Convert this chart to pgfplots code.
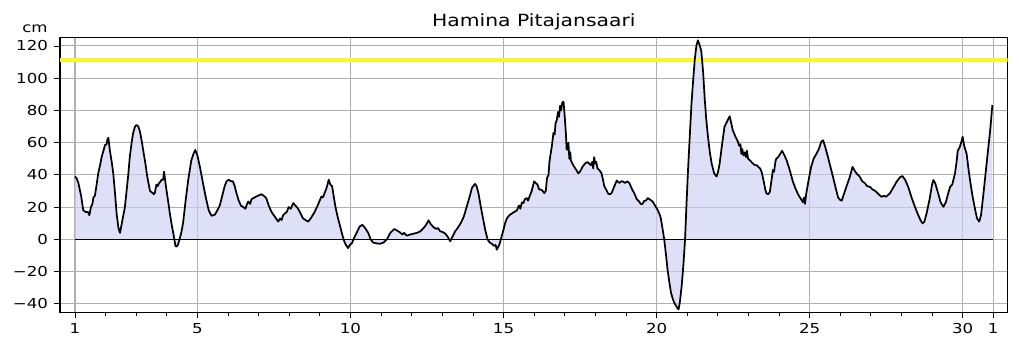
\documentclass[border=0pt]{standalone}
\usepackage{fontspec}
\setmainfont{DejaVu Sans}[FakeStretch=1.21]
\usepackage{pgfplots}
\pgfplotsset{compat=1.18}
\usepackage{pgfplotstable}
\definecolor{fillc}{RGB}{205,207,245}
\definecolor{gridc}{RGB}{176,176,176}
\definecolor{yel}{RGB}{248,248,40}

\pgfplotstableread{
x y
1.00 39
1.05 38
1.11 35
1.20 27
1.27 18
1.35 17
1.42 17
1.47 15
1.52 20
1.57 22
1.60 26
1.65 27
1.70 33
1.76 41
1.82 46
1.87 51
1.93 55
1.98 58.5
2.03 59
2.06 62
2.09 63
2.14 55
2.20 48
2.25 41
2.31 28
2.36 16
2.42 7
2.47 4
2.53 10
2.58 15
2.63 20
2.68 29
2.74 40
2.79 51
2.85 60
2.90 66
2.96 70
3.01 71
3.07 70
3.12 67
3.18 61
3.23 55
3.30 47
3.36 39
3.45 30
3.52 29
3.58 28
3.61 29
3.66 34
3.70 33
3.75 35
3.80 36
3.83 37
3.88 37
3.91 42
3.97 33
4.04 24
4.10 16
4.16 9
4.21 4
4.28 -4
4.32 -4.5
4.36 -3.5
4.40 -1
4.47 4
4.53 10
4.62 25
4.70 37
4.80 49
4.87 53
4.93 55.5
5.00 52
5.08 45
5.20 33
5.29 24.5
5.37 18
5.46 14.6
5.57 15.3
5.65 18
5.73 21
5.81 27
5.89 33
5.95 36
6.02 37
6.10 36
6.16 36
6.22 33
6.27 29
6.35 24
6.42 21
6.50 20
6.57 19
6.62 22
6.66 23.5
6.72 22
6.77 25
6.87 26
6.97 27
7.09 28
7.17 27
7.25 25.5
7.33 21
7.42 17
7.53 14
7.64 11
7.70 13
7.75 12
7.80 15
7.85 16
7.92 17
7.98 20
8.05 19
8.13 22.5
8.20 21
8.29 19
8.37 16
8.45 13
8.53 12
8.62 11
8.70 13
8.83 17
8.95 22
9.05 26.6
9.10 26
9.16 29
9.22 32
9.29 37
9.34 34
9.40 33
9.45 27
9.51 20
9.58 14
9.65 9
9.73 3
9.81 -2
9.87 -4
9.92 -5.4
9.98 -3.5
10.05 -2.3
10.12 1
10.20 4
10.30 8
10.39 9
10.48 7
10.58 4
10.66 0
10.74 -2
10.85 -2.5
10.97 -2.7
11.08 -2
11.19 0
11.30 4
11.43 6.4
11.52 5.5
11.62 4.3
11.70 3
11.75 4
11.84 2.3
11.95 3
12.05 3.5
12.17 4
12.28 5
12.39 7
12.47 9
12.55 11.8
12.62 9.5
12.71 7.6
12.80 6.5
12.86 7
12.93 5
13.02 4.5
13.10 3.5
13.18 1.5
13.26 -1.2
13.34 2
13.42 5
13.50 7
13.60 10
13.70 14
13.80 20.4
13.90 27
13.97 32
14.07 34.4
14.12 33
14.18 28.7
14.25 21
14.32 14
14.40 6
14.48 0
14.55 -2
14.62 -2.7
14.68 -4
14.74 -3.5
14.78 -6.4
14.82 -5
14.87 -3
14.94 2
15.00 6
15.05 10
15.11 13
15.19 15
15.27 16
15.35 17
15.44 18
15.50 21
15.55 19
15.60 23
15.65 22.5
15.70 25
15.76 25.6
15.80 24
15.85 26.6
15.92 30
16.00 36
16.05 35
16.11 34
16.16 31
16.22 31
16.28 30
16.33 28.7
16.38 30
16.42 38
16.47 40
16.50 48
16.53 52
16.58 58
16.63 66
16.67 65
16.70 72
16.74 74
16.78 79
16.81 76
16.85 83
16.88 80
16.92 85
16.96 85.4
17.00 76
17.04 65
17.06 56
17.09 55.5
17.12 60
17.15 50
17.18 54
17.20 49
17.25 47
17.31 45
17.38 43
17.44 41
17.50 42
17.58 45
17.66 47
17.75 48
17.80 47
17.85 46
17.90 48
17.93 44
17.96 51
18.00 47
18.03 48
18.07 44
18.13 43
18.20 41
18.25 37
18.29 33
18.35 31
18.42 28.3
18.48 28
18.53 28.7
18.60 32
18.70 36.5
18.78 35
18.85 36
18.89 36
18.97 35
19.04 36
19.11 35
19.20 31
19.27 28.7
19.35 25
19.43 23.5
19.48 22
19.54 22
19.60 24
19.65 24
19.71 25.6
19.80 24.5
19.87 23.5
19.95 21
20.03 18.4
20.09 16
20.14 13
20.20 6
20.25 0
20.31 -10
20.36 -19
20.42 -27
20.47 -33
20.53 -37
20.58 -39.4
20.63 -41
20.69 -43
20.72 -43.4
20.76 -39
20.82 -29
20.88 -15
20.93 0
20.98 23
21.03 44
21.09 66
21.14 84
21.20 100
21.25 112
21.30 120
21.35 123.5
21.40 121
21.46 117
21.52 104
21.57 88
21.62 75
21.68 63.6
21.74 54
21.80 47
21.88 41
21.96 39
22.01 42
22.06 47
22.14 59
22.22 70
22.30 73
22.39 76.4
22.44 72
22.49 67.7
22.57 64
22.66 60.5
22.70 58
22.74 59
22.77 53
22.80 56
22.84 52
22.88 54
22.92 51
22.95 55
22.99 50
23.05 49
23.10 48
23.15 47
23.22 46
23.28 46
23.32 45
23.38 44
23.43 42
23.50 36
23.55 31
23.59 28.5
23.65 28
23.70 29.5
23.75 36
23.80 43
23.84 42
23.88 48
23.91 50
23.97 51
24.04 53
24.10 55
24.18 52
24.25 49
24.35 43
24.45 36
24.56 30.5
24.65 27
24.72 25
24.78 23
24.82 26
24.85 22
24.89 28.5
24.97 37
25.05 45
25.13 50
25.22 53
25.30 56
25.38 60.5
25.44 61.5
25.50 58
25.60 51
25.68 45
25.76 39
25.85 32
25.93 26
26.00 24.4
26.05 24
26.10 27
26.20 32.6
26.30 38
26.36 42
26.40 45
26.46 43
26.53 41
26.64 38.8
26.72 36
26.80 35
26.88 33
26.97 32.6
27.05 31
27.15 30
27.25 28
27.35 26.4
27.42 27
27.50 26.5
27.62 28.5
27.73 32
27.84 35.7
27.95 38.5
28.03 39.3
28.12 37
28.22 32.6
28.33 26
28.44 20.2
28.55 15
28.62 12
28.69 9.9
28.75 11
28.82 16
28.92 25
29.00 34
29.04 36.8
29.10 35
29.20 28.5
29.28 23
29.37 20.2
29.45 23
29.52 28
29.59 32.6
29.66 34
29.75 41
29.80 48
29.84 55
29.90 57
29.95 60
30.00 63.6
30.05 58
30.13 53
30.18 45
30.24 36.8
30.32 27
30.41 18.2
30.47 13
30.54 11
30.60 15
30.68 28.5
30.76 43
30.84 57.4
30.90 68
30.97 83.3
}\level

\begin{document}
\begin{tikzpicture}
\begin{axis}[
  name=ax,
  scale only axis,
  width=710.8pt, height=206pt,
  xmin=0.51, xmax=31.47, ymin=-45.3, ymax=125.1,
  xtick={1,5,10,15,20,25,30,31},
  xticklabels={1,5,10,15,20,25,30,1},
  minor xtick={2,3,4,6,7,8,9,11,12,13,14,16,17,18,19,21,22,23,24,26,27,28,29},
  ytick={-40,-20,0,20,40,60,80,100,120},
  yticklabels={−40,−20,0,20,40,60,80,100,120},
  tick pos=left,
  tick align=outside,
  major tick length=4.5pt, minor tick length=2.5pt,
  tick style={black, line width=0.6pt},
  grid=major,
  major grid style={gridc, line width=0.8pt},
  axis line style={black, line width=0.8pt},
  tick label style={font=\fontsize{10.3}{12}\selectfont},
  yticklabel style={xshift=-1pt},
  title={Hamina Pitajansaari},
  title style={at={(0.5,1)}, anchor=base, yshift=2.2pt, font=\fontsize{12.6}{15}\selectfont},
]
\addplot[draw=none, fill=fillc, fill opacity=0.65] table[x=x,y=y] {\level} \closedcycle;
\addplot[black, line width=0.8pt] coordinates {(1,0) (31,0)};
\addplot[yel, line width=3pt] coordinates {(0.51,111) (31.47,111)};
\addplot[black, line width=1.3pt, line join=round] table[x=x,y=y] {\level};
\end{axis}
\node[anchor=base, font=\fontsize{10.3}{12}\selectfont] at ([shift={(-18.75pt,4.05pt)}]ax.north west) {cm};
\pgfresetboundingbox
\path[use as bounding box] ([shift={(-45pt,-29.8pt)}]ax.south west) rectangle ([shift={(8.5pt,28.3pt)}]ax.north east);
\end{tikzpicture}
\end{document}
